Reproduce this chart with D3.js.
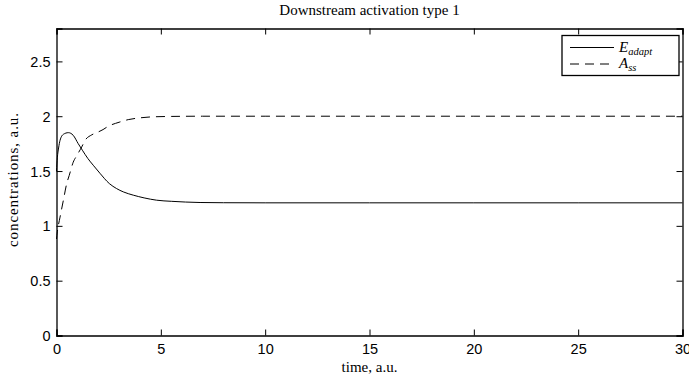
<!DOCTYPE html>
<html>
<head>
<meta charset="utf-8">
<script src="https://cdn.jsdelivr.net/npm/d3@7"></script>
<style>
body { margin: 0; background: #fff; }
svg { display: block; }
</style>
</head>
<body>
<script>
// ---- data ----
const titleText = "Downstream activation type 1";
const xLabel = "time, a.u.";
const yLabel = "concentrations, a.u.";
const xTicks = [0, 5, 10, 15, 20, 25, 30];
const yTicks = [0, 0.5, 1, 1.5, 2, 2.5];
const eTime  = [0, 0.04, 0.1, 0.17, 0.33, 0.57, 0.8, 1.04, 1.24, 1.5, 1.76, 2.08, 2.53, 2.88, 3.2, 3.68, 4.2, 4.8, 5.5, 6.88, 8, 10, 15, 20, 25, 30];
const eValue = [1.5, 1.62, 1.71, 1.78, 1.835, 1.85, 1.826, 1.75, 1.69, 1.615, 1.553, 1.48, 1.386, 1.34, 1.31, 1.28, 1.255, 1.234, 1.224, 1.213, 1.211, 1.21, 1.21, 1.21, 1.21, 1.21];
const aTime  = [0, 0.04, 0.17, 0.33, 0.49, 0.61, 0.8, 0.97, 1.21, 1.37, 1.69, 2.0, 2.23, 2.48, 3.0, 3.44, 4.0, 4.48, 5.5, 7, 10, 15, 20, 25, 30];
const aValue = [0.88, 0.945, 1.08, 1.234, 1.386, 1.46, 1.58, 1.64, 1.72, 1.78, 1.83, 1.856, 1.878, 1.908, 1.945, 1.969, 1.985, 1.993, 1.998, 2.0, 2.0, 2.0, 2.0, 2.0, 2.0];
const seriesNames = ["adapt", "ss"];

// ---- layout ----
const W = 689, H = 381;
const mg = { left: 56.5, right: 689 - 682.5, top: 28.5, bottom: 381 - 335.5 };
const pw = W - mg.left - mg.right, ph = H - mg.top - mg.bottom;

const svg = d3.select("body").append("svg").attr("width", W).attr("height", H);

const x = d3.scaleLinear().domain([0, 30]).range([mg.left, mg.left + pw]);
const y = d3.scaleLinear().domain([0, 2.8]).range([mg.top + ph, mg.top]);

const tickLen = 6;
const sansFont = "'Liberation Sans', Arial, sans-serif";
const serifFont = "'Liberation Serif', 'DejaVu Serif', serif";

svg.append("rect").attr("x", mg.left).attr("y", mg.top).attr("width", pw).attr("height", ph)
  .attr("fill", "#fff").attr("stroke", "none");

// curves
const lineGen = d3.line().x(d => x(d[0])).y(d => y(d[1])).curve(d3.curveMonotoneX);
const eData = eTime.map((t, i) => [t, eValue[i]]);
const aData = aTime.map((t, i) => [t, aValue[i]]);

svg.append("path").attr("d", lineGen(aData)).attr("fill", "none")
  .attr("stroke", "#000").attr("stroke-width", 1).attr("stroke-dasharray", "9,6");
svg.append("path").attr("d", lineGen(eData)).attr("fill", "none")
  .attr("stroke", "#000").attr("stroke-width", 1);

// axes, ticks inward
const gBottom = svg.append("g").attr("transform", `translate(0,${mg.top + ph})`)
  .call(d3.axisBottom(x).tickValues(xTicks).tickSize(-tickLen).tickPadding(8).tickFormat(d3.format("d")));
const gLeft = svg.append("g").attr("transform", `translate(${mg.left},0)`)
  .call(d3.axisLeft(y).tickValues(yTicks).tickSize(-tickLen).tickPadding(6).tickFormat(d => String(d)));
const gTop = svg.append("g").attr("transform", `translate(0,${mg.top})`)
  .call(d3.axisTop(x).tickValues(xTicks).tickSize(-tickLen).tickFormat(""));
const gRight = svg.append("g").attr("transform", `translate(${mg.left + pw},0)`)
  .call(d3.axisRight(y).tickValues(yTicks).tickSize(-tickLen).tickFormat(""));

[gBottom, gLeft, gTop, gRight].forEach(g => {
  g.selectAll(".domain").attr("stroke", "#000").attr("stroke-width", 1.3);
  g.selectAll(".tick line").attr("stroke", "#000").attr("stroke-width", 1);
  g.selectAll("text").attr("fill", "#000").attr("font-family", sansFont).attr("font-size", 14.5);
});
gBottom.selectAll("text").attr("dy", "0.71em");
gLeft.selectAll("text").attr("dy", "0.35em");

// title & axis labels
svg.append("text").attr("x", mg.left + pw / 2).attr("y", 15).attr("text-anchor", "middle")
  .attr("font-family", serifFont).attr("font-size", 15).text(titleText);
svg.append("text").attr("x", mg.left + pw / 2).attr("y", 372).attr("text-anchor", "middle")
  .attr("font-family", serifFont).attr("font-size", 15).text(xLabel);
svg.append("text").attr("transform", `translate(18,${mg.top + ph / 2 - 2}) rotate(-90)`)
  .attr("text-anchor", "middle").attr("font-family", serifFont).attr("font-size", 15)
  .attr("textLength", 134).attr("lengthAdjust", "spacing").text(yLabel);

// legend
const lg = svg.append("g");
lg.append("rect").attr("x", 562).attr("y", 35.5).attr("width", 117).attr("height", 40)
  .attr("fill", "#fff").attr("stroke", "#000").attr("stroke-width", 1.3);
const rows = [
  { base: "E", sub: seriesNames[0], dash: null, yy: 47.5 },
  { base: "A", sub: seriesNames[1], dash: "9,6", yy: 64 }
];
rows.forEach(r => {
  lg.append("line").attr("x1", 570).attr("x2", 614).attr("y1", r.yy).attr("y2", r.yy)
    .attr("stroke", "#000").attr("stroke-width", 1).attr("stroke-dasharray", r.dash);
  const t = lg.append("text").attr("x", 619).attr("y", r.yy + 4)
    .attr("font-family", serifFont).attr("font-style", "italic").attr("font-size", 15);
  t.append("tspan").text(r.base);
  t.append("tspan").attr("font-size", 10.5).attr("dy", 3).text(r.sub);
});
</script>
</body>
</html>
